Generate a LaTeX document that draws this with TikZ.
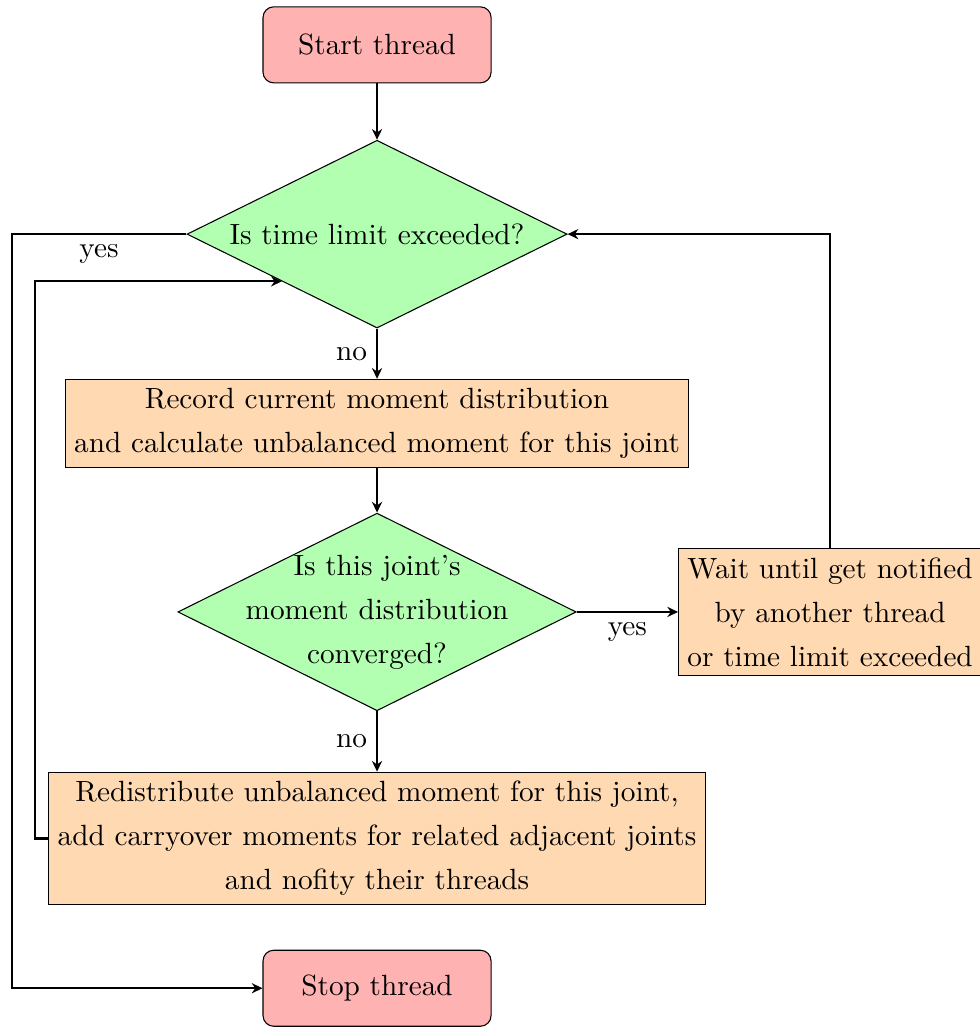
\documentclass[tikz,border=0pt]{standalone}
\usetikzlibrary{arrows.meta,shapes.geometric}
\newcommand{\flowfont}{\fontsize{10.95}{16.5}\selectfont}

\begin{document}
\begin{tikzpicture}[>={Stealth[length=4pt,width=3.8pt]},font=\flowfont,
  startstop/.style={rectangle,rounded corners,draw,fill=red!30,
    minimum width=3cm,minimum height=1cm},
  decision/.style={diamond,draw,fill=green!30,inner sep=0pt},
  process/.style={rectangle,draw,fill=orange!30,align=center},
  arrow/.style={thick,->}]
  \useasboundingbox (-4.96,0) rectangle (7.92,-13.51);

  \node[startstop] (start) at (0,-.59) {Start thread};
  \node[decision,minimum width=5cm,minimum height=2.47cm,
    label={center:Is time limit exceeded?}] (lim) at (0,-3.08) {};
  \node[process] (record) at (0,-5.57)
    {Record current moment distribution\\and calculate unbalanced moment for this joint};
  \node[decision,minimum width=5.24cm,minimum height=2.6cm,
    label={[align=center]center:{Is this joint's\\moment distribution\\converged?}}]
    (conv) at (0,-8.05) {};
  \node[process] (wait) at (5.96,-8.05)
    {Wait until get notified\\by another thread\\or time limit exceeded};
  \node[process] (redist) at (0,-11.03)
    {Redistribute unbalanced moment for this joint,\\add carryover moments for related adjacent joints\\and nofity their threads};
  \node[startstop] (stop) at (0,-13.0) {Stop thread};

  \draw[arrow] (start) -- (lim);
  \draw[arrow] (lim) -- node[left] {no} (record);
  \draw[arrow] (record) -- (conv);
  \draw[arrow] (conv) -- node[below] {yes} (wait);
  \draw[arrow] (conv) -- node[left] {no} (redist);
  \draw[arrow] (wait.north) |- (lim.east);
  \draw[arrow] (lim.west) -- node[below] {yes} ++(-2.3,0) |- (stop.west);
  \draw[arrow] (redist.west) -- ++(-.18,0) |- (lim.south west);
\end{tikzpicture}
\end{document}
